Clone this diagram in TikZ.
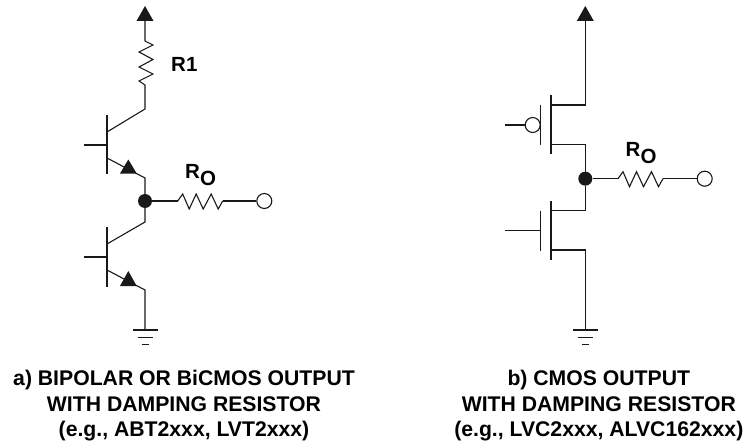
\documentclass[tikz,border=0pt]{standalone}
\usepackage{fontspec}
\setmainfont{Liberation Sans}
\newcommand{\lblfont}{\fontsize{20.5pt}{25.6pt}\selectfont\bfseries}
\newcommand{\capfont}{\fontsize{21.2pt}{25.6pt}\selectfont\bfseries}
\tikzset{
  wire/.style={line width=1.1pt,draw=black!90},
  tipfill/.style={fill=black!90,draw=none},
  junction/.style={circle,fill=black!90,draw=none,inner sep=0pt,minimum size=14pt},
  terminal/.style={circle,fill=white,draw=black!90,line width=1.1pt,inner sep=0pt,minimum size=15pt},
  lbl/.style={font=\lblfont,inner sep=0pt,anchor=base},
  caption/.style={font=\capfont,inner sep=0pt,align=center,anchor=base}
}
\newcommand{\gnd}[2]{% x, y of top bar
  \draw[wire] (#1-12.5,#2) -- (#1+12.5,#2);
  \draw[wire] (#1-7.5,#2+7.3) -- (#1+7.5,#2+7.3);
  \draw[wire] (#1-3.5,#2+14.3) -- (#1+3.5,#2+14.3);
}
\newcommand{\upperarrow}[2]{\fill[tipfill] (#1,#2) -- (#1-8.5,#2+15) -- (#1+8.5,#2+15) -- cycle;}
\newcommand{\hres}[2]{% start x, y
  \draw[wire,line join=miter] (#1,#2) -- ++(5,-7) -- ++(6.5,15) -- ++(7,-15) -- ++(7,15) -- ++(8,-15) -- ++(7,15) -- ++(4.5,-8);
}
\begin{document}
\begin{tikzpicture}[x=1pt,y=-1pt]
\useasboundingbox (0,0) rectangle (745,444);
% ---------- a) bipolar ----------
\coordinate (avcc) at (145,21);
\coordinate (ar1t) at (145,41);
\coordinate (ar1b) at (145,85);
\coordinate (ac1) at (145,109);
\coordinate (ac1i) at (107,132);
\coordinate (ae1i) at (107,158);
\coordinate (ae1) at (145,178);
\node[junction] (aout) at (145,201) {};
\coordinate (ac2) at (145,222);
\coordinate (ac2i) at (107,244);
\coordinate (ae2i) at (107,270);
\coordinate (ae2) at (145,290);
\coordinate (agnd) at (145,330);
\coordinate (arol) at (177.7,201);
\coordinate (aror) at (222.7,201);
\node[terminal] (atrm) at (264.3,201) {};
\coordinate (ab1) at (83.5,145);
\coordinate (ab1i) at (107,145);
\coordinate (ab2) at (83.5,257);
\coordinate (ab2i) at (107,257);

\upperarrow{145}{6}
\draw[wire] (avcc) -- (ar1t) -- ++(8,4) -- ++(-14,7) -- ++(14,7.5) -- ++(-14,7.5) -- ++(14,7) -- ++(-14,7) -- (ar1b) -- (ac1) -- (ac1i);
\draw[wire] (107,115) -- (107,174);
\draw[wire] (ab1) -- (ab1i);
\draw[wire] (ae1i) -- (ae1) -- (aout);
\fill[tipfill] (128.3,159.5) -- (120,173.5) -- (136.7,173.5) -- cycle;
\draw[wire] (aout) -- (ac2) -- (ac2i);
\draw[wire] (107,227) -- (107,287);
\draw[wire] (ab2) -- (ab2i);
\draw[wire] (ae2i) -- (ae2) -- (agnd);
\fill[tipfill] (128.3,271) -- (120,286) -- (136.7,286) -- cycle;
\gnd{145}{330}
\draw[wire] (aout) -- (arol);
\hres{177.7}{201}
\draw[wire] (aror) -- (atrm);
\node[lbl,anchor=base west] (ar1lbl) at (171,72) {R1};
\node[lbl,anchor=base west] (arolbl) at (185,178) {R\raisebox{-7pt}{O}};
\node[caption] (acap) at (184,436.7) {a) BIPOLAR OR BiCMOS OUTPUT\\WITH DAMPING RESISTOR\\(e.g., ABT2xxx, LVT2xxx)};
% ---------- b) CMOS ----------
\coordinate (bvcc) at (585.3,21);
\coordinate (bd1) at (585.3,105);
\coordinate (bd1i) at (551,105);
\coordinate (bs1i) at (551,144.5);
\coordinate (bs1) at (585.3,144.5);
\node[junction] (bout) at (585.3,178.7) {};
\coordinate (bd2) at (585.3,210.7);
\coordinate (bd2i) at (551,210.7);
\coordinate (bs2i) at (551,250);
\coordinate (bs2) at (585.3,250);
\coordinate (bgnd) at (585.3,330);
\coordinate (brol) at (618,178.7);
\coordinate (bror) at (663,178.7);
\node[terminal] (btrm) at (704.7,178.7) {};
\node[terminal] (bbub) at (532.7,125) {};
\coordinate (bg1) at (505,125);
\coordinate (bg2) at (505,230.5);
\coordinate (bg2i) at (540.7,230.5);

\upperarrow{585.3}{6}
\draw[wire] (bvcc) -- (bd1) -- (bd1i);
\draw[wire] (551,95) -- (551,154);
\draw[wire] (540.7,105) -- (540.7,144.5);
\draw[wire] (bg1) -- (bbub);
\draw[wire] (bs1i) -- (bs1) -- (bout);
\draw[wire] (bout) -- (bd2) -- (bd2i);
\draw[wire] (551,201) -- (551,260);
\draw[wire] (540.7,210.7) -- (540.7,250.5);
\draw[wire] (bg2) -- (bg2i);
\draw[wire] (bs2i) -- (bs2) -- (bgnd);
\gnd{585.3}{330}
\draw[wire] (bout) -- (brol);
\hres{618}{178.7}
\draw[wire] (bror) -- (btrm);
\node[lbl,anchor=base west] (brolbl) at (625.5,156.7) {R\raisebox{-7pt}{O}};
\node[caption] (bcap) at (598.8,436.7) {b) CMOS OUTPUT\\WITH DAMPING RESISTOR\\(e.g., LVC2xxx, ALVC162xxx)};
\end{tikzpicture}
\end{document}
